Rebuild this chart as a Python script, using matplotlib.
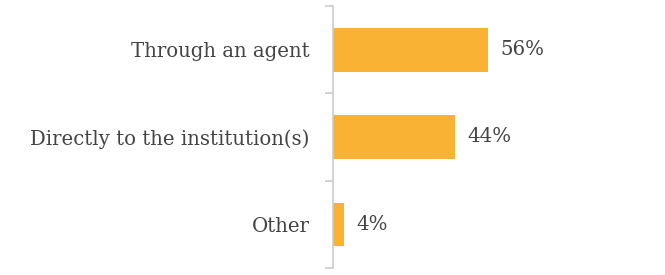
import matplotlib
matplotlib.use("Agg")
import matplotlib.pyplot as plt

# ==========================================================
# DATA
# ==========================================================

categories = [
    "Through an agent",
    "Directly to the institution(s)",
    "Other"
]

values = [56, 44, 4]

value_labels = ["56%", "44%", "4%"]

# ==========================================================
# GRAPH
# ==========================================================

plt.rcParams["font.family"] = ["DejaVu Serif"]

fig = plt.figure(figsize=(6.65, 2.75), dpi=100)
ax = fig.add_axes([333/665, 7/275, 1 - 333/665, 262/275])

y = list(range(len(categories)))

bars = ax.barh(
    y,
    values,
    height=0.5,
    color="#F9B233"
)

ax.set_ylim(len(categories) - 0.5, -0.5)
ax.set_xlim(0, 120)

ax.set_yticks(y)
ax.set_yticklabels(categories, fontsize=14.2, color="#444444")
ax.set_yticks([i - 0.5 for i in range(len(categories) + 1)], minor=True)

ax.tick_params(axis="y", which="major", length=0, pad=17)
ax.tick_params(axis="y", which="minor", length=6, width=1.2, color="#cccccc")

ax.set_xticks([])

for side in ["top", "right", "bottom"]:
    ax.spines[side].set_visible(False)

ax.spines["left"].set_color("#cccccc")
ax.spines["left"].set_linewidth(1.2)

# value labels to the right of the bars
for bar, lab in zip(bars, value_labels):

    ax.annotate(
        lab,
        (bar.get_width(), bar.get_y() + bar.get_height()/2),
        xytext=(9, 0),
        textcoords="offset points",
        va="center",
        ha="left",
        fontsize=14.2,
        color="#444444"
    )

fig.savefig("out.png", dpi=100)
